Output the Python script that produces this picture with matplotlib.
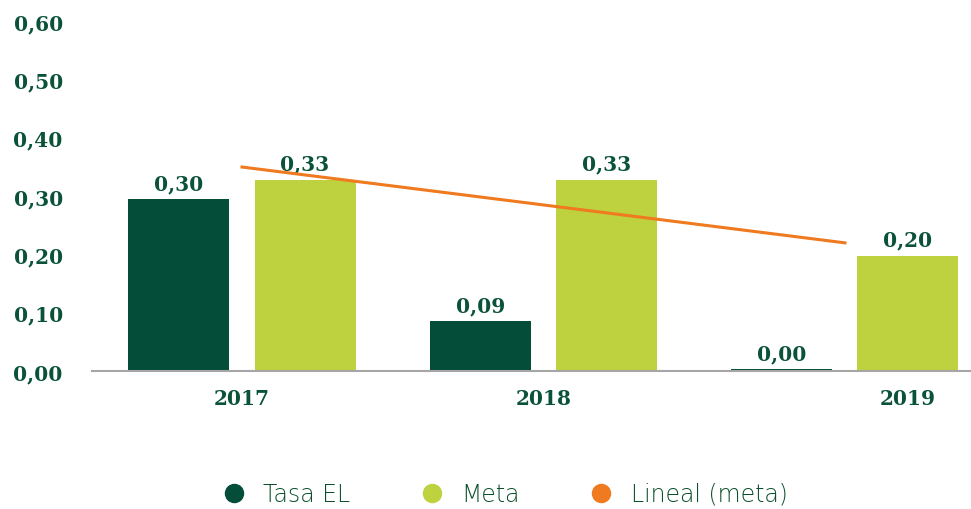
import matplotlib
matplotlib.use("Agg")
import matplotlib.pyplot as plt
from matplotlib.lines import Line2D
import numpy as np

# data
years = ["2017", "2018", "2019"]
tasa_el = [0.295, 0.086, 0.003]
tasa_labels = ["0,30", "0,09", "0,00"]
meta = [0.328, 0.328, 0.198]
meta_labels = ["0,33", "0,33", "0,20"]
yticks = [0.0, 0.1, 0.2, 0.3, 0.4, 0.5, 0.6]

dark_green = "#034d39"
light_green = "#bed13f"
orange = "#ef7a1f"
text_color = "#0a5238"
serif = dict(family="DejaVu Serif", weight="bold", size=14.5, color=text_color)

fig = plt.figure(figsize=(9.71, 5.10), dpi=100)
ax = fig.add_axes([92 / 971, 138 / 510, 1 - 92 / 971, 350 / 510])

x = np.arange(len(years))
width = 0.335
offset = width / 2 + 0.0415

bars_t = ax.bar(x - offset, tasa_el, width, color=dark_green)
bars_m = ax.bar(x + offset, meta, width, color=light_green)

for bar, lab in zip(bars_t, tasa_labels):
    ax.text(bar.get_x() + bar.get_width() / 2, bar.get_height() + 0.01, lab,
            ha="center", va="bottom", **serif)
for bar, lab in zip(bars_m, meta_labels):
    ax.text(bar.get_x() + bar.get_width() / 2, bar.get_height() + 0.01, lab,
            ha="center", va="bottom", **serif)

# linear trend of meta
coef = np.polyfit(x, meta, 1)
ax.plot(x, np.polyval(coef, x), color=orange, linewidth=2.2, zorder=3)

ax.set_xlim(-0.4975, 2.418)
ax.set_ylim(0, 0.6)
ax.set_yticks(yticks)
ax.set_yticklabels([f"{v:.2f}".replace(".", ",") for v in yticks], fontdict=serif)
# last category label sits under the Meta bar in the source
ax.set_xticks([0, 1, 2 + offset])
ax.set_xticklabels(years, fontdict=serif)
ax.tick_params(axis="both", length=0)
ax.tick_params(axis="y", pad=21)
ax.tick_params(axis="x", pad=12)

for side in ["top", "right", "left"]:
    ax.spines[side].set_visible(False)
ax.spines["bottom"].set_color("#a6a6a6")
ax.spines["bottom"].set_linewidth(1.5)

handles = [
    Line2D([], [], marker="o", linestyle="none", markersize=13, color=dark_green),
    Line2D([], [], marker="o", linestyle="none", markersize=13, color=light_green),
    Line2D([], [], marker="o", linestyle="none", markersize=13, color=orange),
]
fig.legend(handles, ["Tasa EL", "Meta", "Lineal (meta)"], loc="center",
           bbox_to_anchor=(499 / 971, 15 / 510), ncol=3, frameon=False,
           prop=dict(family="DejaVu Sans", weight="light", size=17),
           labelcolor="#0b4f2a", handletextpad=0.25, columnspacing=2.45)

fig.savefig("out.png", dpi=100)
